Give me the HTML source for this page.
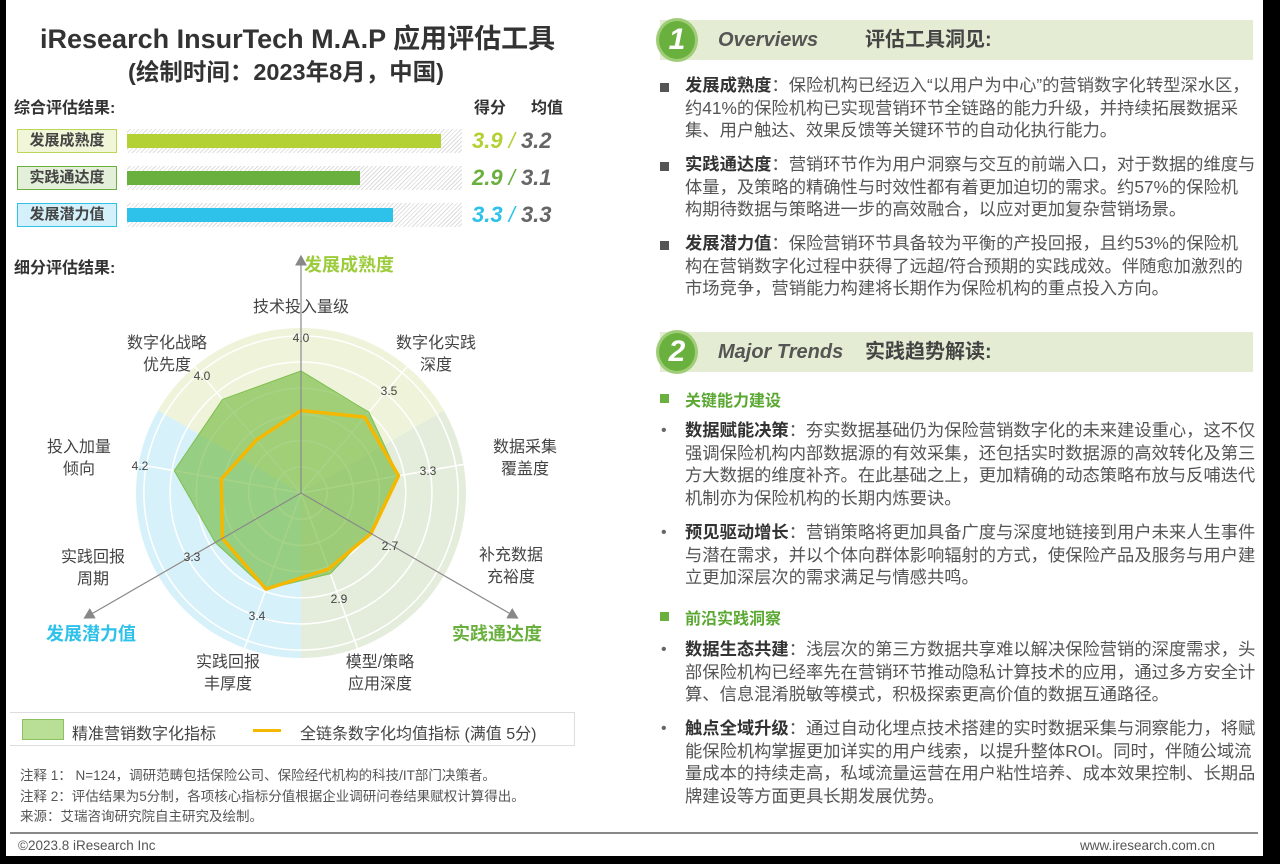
<!DOCTYPE html>
<html><head><meta charset="utf-8">
<style>
*{margin:0;padding:0;box-sizing:border-box}
body{width:1280px;height:864px;background:#000;position:relative;overflow:hidden;font-family:"Liberation Sans","Noto Sans CJK SC",sans-serif;color:#333}
#page{position:absolute;left:6px;top:0;width:1257px;height:856px;background:#fff}
.abs{position:absolute;white-space:nowrap}
.lbl{position:absolute;width:100px;height:24px;font-size:15px;font-weight:bold;text-align:center;line-height:22px;color:#444}
.track{position:absolute;left:121px;width:335px;height:24px;background:repeating-linear-gradient(135deg,#fff 0 2px,#ddd 2px 3px)}
.bar{position:absolute;height:14px}
.score{position:absolute;font-size:22px;font-weight:bold;font-style:italic}
.hdr{position:absolute;left:654px;width:593px;height:40px;background:#e4edd3}
.num{position:absolute;left:-4px;top:-2px;width:42px;height:44px;border-radius:50%;background:#6ab03e;border:3px solid #9fcd77;color:#fff;font-size:30px;font-style:italic;font-weight:bold;text-align:center;line-height:38px}
.rt{position:absolute;left:679px;font-size:17.3px;line-height:22.7px;color:#555;white-space:nowrap}
.rt b{color:#333}
.sq{position:absolute;left:654px;width:9px;height:9px;background:#555}
.dot{position:absolute;left:655px;font-size:16px;color:#666}
.note{position:absolute;left:14px;font-size:13.5px;color:#555}
.h1{position:absolute;left:58px;top:0;line-height:40px;font-size:20px;font-weight:bold;font-style:italic;color:#555}
.h2{position:absolute;left:205px;top:0;line-height:40px;font-size:20px;font-weight:bold;color:#444}
</style></head><body>
<div id="page">
<div class="abs" style="left:34px;top:17px;font-size:27px;font-weight:bold;color:#333">iResearch InsurTech M.A.P 应用评估工具</div>
<div class="abs" style="left:122px;top:53px;font-size:23.5px;font-weight:bold;color:#333">(绘制时间：2023年8月，中国)</div>
<div class="abs" style="left:8px;top:94px;font-size:16px;font-weight:bold">综合评估结果:</div>
<div class="abs" style="left:468px;top:94px;font-size:16px;font-weight:bold">得分</div>
<div class="abs" style="left:525px;top:94px;font-size:16px;font-weight:bold">均值</div>

<div class="lbl" style="left:11px;top:129px;background:#f1f6d8;border:1px solid #bcd65a">发展成熟度</div>
<div class="lbl" style="left:11px;top:166px;background:#e3efd8;border:1px solid #6ab03e">实践通达度</div>
<div class="lbl" style="left:11px;top:203px;background:#d4f0fa;border:1px solid #2ec1ea">发展潜力值</div>
<div id="bars"></div>

<div class="abs" style="left:8px;top:254px;font-size:16px;font-weight:bold">细分评估结果:</div>
<svg id="radar" class="abs" style="left:-6px;top:240px" width="600" height="460"></svg>

<div class="abs" style="left:4px;top:712px;width:565px;height:34px;border:1px solid #ddd;border-left:none">
 <div class="abs" style="left:12px;top:6px;width:42px;height:21px;background:#b9de96;border:1px solid #8cc163"></div>
 <div class="abs" style="left:62px;top:7px;font-size:16px;color:#444">精准营销数字化指标</div>
 <div class="abs" style="left:243px;top:16px;width:28px;height:3px;background:#f5b800"></div>
 <div class="abs" style="left:290px;top:7px;font-size:16px;color:#444">全链条数字化均值指标 (满值 5分)</div>
</div>
<div class="note" style="top:764px">注释 1： N=124，调研范畴包括保险公司、保险经代机构的科技/IT部门决策者。</div>
<div class="note" style="top:785px">注释 2：评估结果为5分制，各项核心指标分值根据企业调研问卷结果赋权计算得出。</div>
<div class="note" style="top:805px">来源：艾瑞咨询研究院自主研究及绘制。</div>
<div class="abs" style="left:4px;top:832px;width:1248px;height:2px;background:#888"></div>
<div class="abs" style="left:12px;top:838px;font-size:13.5px;color:#555">©2023.8 iResearch Inc</div>
<div class="abs" style="left:1074px;top:838px;font-size:13.5px;color:#555">www.iresearch.com.cn</div>

<div class="hdr" style="top:20px">
 <div class="num">1</div>
 <div class="h1">Overviews</div>
 <div class="h2">评估工具洞见:</div>
</div>
<div class="sq" style="top:83px"></div>
<div class="rt" style="top:74px"><b>发展成熟度</b>：保险机构已经迈入“以用户为中心”的营销数字化转型深水区，<br>约41%的保险机构已实现营销环节全链路的能力升级，并持续拓展数据采<br>集、用户触达、效果反馈等关键环节的自动化执行能力。</div>
<div class="sq" style="top:162px"></div>
<div class="rt" style="top:153px"><b>实践通达度</b>：营销环节作为用户洞察与交互的前端入口，对于数据的维度与<br>体量，及策略的精确性与时效性都有着更加迫切的需求。约57%的保险机<br>构期待数据与策略进一步的高效融合，以应对更加复杂营销场景。</div>
<div class="sq" style="top:241px"></div>
<div class="rt" style="top:232px"><b>发展潜力值</b>：保险营销环节具备较为平衡的产投回报，且约53%的保险机<br>构在营销数字化过程中获得了远超/符合预期的实践成效。伴随愈加激烈的<br>市场竞争，营销能力构建将长期作为保险机构的重点投入方向。</div>

<div class="hdr" style="top:332px">
 <div class="num">2</div>
 <div class="h1">Major Trends</div>
 <div class="h2">实践趋势解读:</div>
</div>
<div class="sq" style="top:394px;background:#6ab03e"></div>
<div class="abs" style="left:679px;top:387px;font-size:16px;font-weight:bold;color:#5aa832">关键能力建设</div>
<div class="dot" style="top:422px">•</div>
<div class="rt" style="top:419px"><b>数据赋能决策</b>：夯实数据基础仍为保险营销数字化的未来建设重心，这不仅<br>强调保险机构内部数据源的有效采集，还包括实时数据源的高效转化及第三<br>方大数据的维度补齐。在此基础之上，更加精确的动态策略布放与反哺迭代<br>机制亦为保险机构的长期内炼要诀。</div>
<div class="dot" style="top:524px">•</div>
<div class="rt" style="top:521px"><b>预见驱动增长</b>：营销策略将更加具备广度与深度地链接到用户未来人生事件<br>与潜在需求，并以个体向群体影响辐射的方式，使保险产品及服务与用户建<br>立更加深层次的需求满足与情感共鸣。</div>
<div class="sq" style="top:612px;background:#6ab03e"></div>
<div class="abs" style="left:679px;top:605px;font-size:16px;font-weight:bold;color:#5aa832">前沿实践洞察</div>
<div class="dot" style="top:641px">•</div>
<div class="rt" style="top:638px"><b>数据生态共建</b>：浅层次的第三方数据共享难以解决保险营销的深度需求，头<br>部保险机构已经率先在营销环节推动隐私计算技术的应用，通过多方安全计<br>算、信息混淆脱敏等模式，积极探索更高价值的数据互通路径。</div>
<div class="dot" style="top:720px">•</div>
<div class="rt" style="top:717px"><b>触点全域升级</b>：通过自动化埋点技术搭建的实时数据采集与洞察能力，将赋<br>能保险机构掌握更加详实的用户线索，以提升整体ROI。同时，伴随公域流<br>量成本的持续走高，私域流量运营在用户粘性培养、成本效果控制、长期品<br>牌建设等方面更具长期发展优势。</div>
</div>
<script>
const barCategories=["发展成熟度","实践通达度","发展潜力值"];
const barScores=[3.9,2.9,3.3];
const barMeans=[3.2,3.1,3.3];
const barColors=["#b3d135","#6ab03e","#2ec1ea"];
const axisLabels=["技术投入量级","数字化实践\n深度","数据采集\n覆盖度","补充数据\n充裕度","模型/策略\n应用深度","实践回报\n丰厚度","实践回报\n周期","投入加量\n倾向","数字化战略\n优先度"];
const indexValues=[4.0,3.5,3.3,2.7,2.9,3.4,3.3,4.2,4.0];
const meanValues=[2.8,3.3,3.3,2.75,2.75,3.4,3.05,2.75,2.4];
const rMin=0.3, rMax=5.3;

const bx=121, unit=80.5;
const barsEl=document.getElementById('bars');
const tops=[129,166,203];
barCategories.forEach((c,i)=>{
  const t=document.createElement('div');t.className='track';t.style.top=tops[i]+'px';
  
  
  barsEl.appendChild(t);
  const b=document.createElement('div');b.className='bar';
  b.style.left=bx+'px';b.style.top=(tops[i]+5)+'px';b.style.width=(barScores[i]*unit)+'px';b.style.background=barColors[i];
  
  
  barsEl.appendChild(b);
  const s=document.createElement('div');s.className='score';
  s.style.left='466px';s.style.top=(tops[i]-1)+'px';
  s.innerHTML='<span style="color:'+barColors[i]+'">'+barScores[i].toFixed(1)+'</span><span style="color:'+barColors[i]+';font-weight:normal"> / </span><span style="color:#666">'+barMeans[i].toFixed(1)+'</span>';
  
  
  barsEl.appendChild(s);
});

const svg=document.getElementById('radar');
const NS='http://www.w3.org/2000/svg';
const cx=301, cy=253, R=165;
function rr(v){return (v-rMin)/(rMax-rMin)*R;}
function pt(i,v){const a=i*40*Math.PI/180;const r=rr(v);return [cx+r*Math.sin(a),cy-r*Math.cos(a)];}
function mk(tag,attrs,name){const e=document.createElementNS(NS,tag);for(const k in attrs)e.setAttribute(k,attrs[k]);
 
 
 svg.appendChild(e);return e;}
function sector(a0,a1,col,name){const p0=[cx+R*Math.sin(a0*Math.PI/180),cy-R*Math.cos(a0*Math.PI/180)],p1=[cx+R*Math.sin(a1*Math.PI/180),cy-R*Math.cos(a1*Math.PI/180)];
 mk('path',{d:`M${cx},${cy}L${p0[0]},${p0[1]}A${R},${R} 0 0 1 ${p1[0]},${p1[1]}Z`,fill:col},name);}
sector(-60,60,'#eef3d9','sector-maturity');
sector(60,180,'#e4eddb','sector-reach');
sector(180,300,'#d6f1f9','sector-potential');
for(let k=1;k<=6;k++)mk('circle',{cx,cy,r:R*k/6.3,fill:'none',stroke:'#fff','stroke-width':1.5},'grid-ring');
for(let i=0;i<9;i++){const a=i*40*Math.PI/180;mk('line',{x1:cx,y1:cy,x2:cx+R*Math.sin(a),y2:cy-R*Math.cos(a),stroke:'#fff','stroke-width':1.5},'grid-spoke');}
mk('polygon',{points:indexValues.map((v,i)=>pt(i,v).join(',')).join(' '),fill:'rgba(112,184,58,0.62)',stroke:'#7fbf4f','stroke-width':1},'index-area');
mk('polygon',{points:meanValues.map((v,i)=>pt(i,v).join(',')).join(' '),fill:'none',stroke:'#f5b800','stroke-width':3.5,'stroke-linejoin':'round'},'mean-line');
const defs=document.createElementNS(NS,'defs');defs.innerHTML='<marker id="ah" markerWidth="10" markerHeight="10" refX="8" refY="5" orient="auto"><path d="M0,0L9,5L0,10Z" fill="#888"/></marker>';svg.appendChild(defs);
[[0,237],[120,250],[240,250]].forEach(([d,L],j)=>{const a=d*Math.PI/180;
 mk('line',{x1:cx,y1:cy,x2:cx+L*Math.sin(a),y2:cy-L*Math.cos(a),stroke:'#888','stroke-width':1.2,'marker-end':'url(#ah)'},'dimension-arrow-'+(j+1));});
function txt(x,y,s,attrs,name){const e=mk('text',Object.assign({x,y,'font-family':'Liberation Sans, Noto Sans CJK SC, sans-serif','text-anchor':'middle'},attrs),name);e.textContent=s;return e;}
txt(349,31,'发展成熟度',{'font-size':18,'font-weight':'bold',fill:'#9ccc3c'},'dimension-label-maturity');
txt(497,400,'实践通达度',{'font-size':18,'font-weight':'bold',fill:'#6ab03e'},'dimension-label-reach');
txt(91,400,'发展潜力值',{'font-size':18,'font-weight':'bold',fill:'#2ec1ea'},'dimension-label-potential');
const labPos=[[301,72],[436,108],[525,212],[511,320],[380,427],[228,427],[93,322],[79,212],[167,108]];
axisLabels.forEach((s,i)=>{s.split('\n').forEach((ln,k)=>txt(labPos[i][0],labPos[i][1]+k*22,ln,{'font-size':16,fill:'#444'},'axis-label-'+(i+1)));});
const valPos=[[301,102],[389,155],[428,235],[390,310],[339,363],[257,380],[192,321],[140,230],[202,140]];
indexValues.forEach((v,i)=>txt(valPos[i][0],valPos[i][1],v.toFixed(1),{'font-size':12,fill:'#444'},'value-label-'+(i+1)));
</script>
</body></html>
